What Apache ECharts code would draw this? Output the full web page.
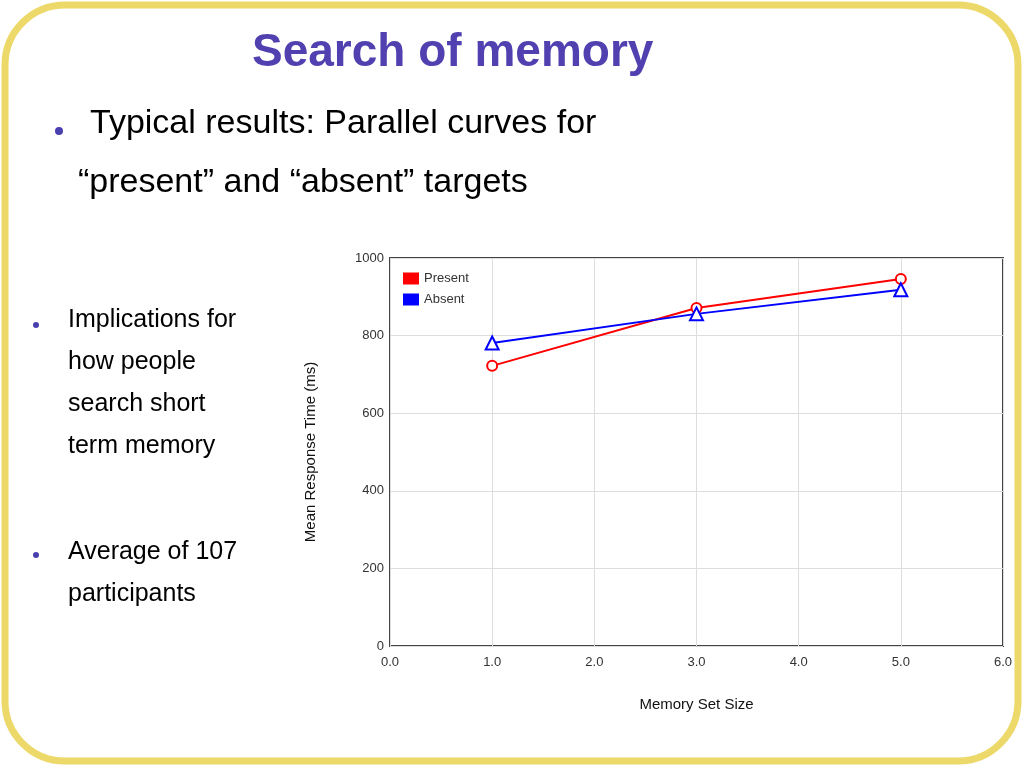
<!DOCTYPE html>
<html><head><meta charset="utf-8">
<script src="https://cdn.jsdelivr.net/npm/echarts@6/dist/echarts.min.js"></script>
<style>html,body{margin:0;padding:0;background:#fff}#c{width:1024px;height:768px}</style>
</head><body><div id="c"></div>
<script>
const xValues = [1.0, 3.0, 5.0];
const presentValues = [722, 871, 946];
const absentValues = [781, 856, 918];
const xTickLabels = ['0.0','1.0','2.0','3.0','4.0','5.0','6.0'];
const yTicks = [0,200,400,600,800,1000];

const chart = echarts.init(document.getElementById('c'));
const txt = (x,y,t,size,extra) => Object.assign({type:'text',left:x,top:y,style:Object.assign({text:t,font:size+'px "Liberation Sans", Arial, sans-serif',fill:'#000'},extra||{})});
const dot = (x,y,r) => ({type:'circle',shape:{cx:x,cy:y,r:r},style:{fill:'#4a3fae'}});
chart.setOption({
  animation:false,
  graphic:[
    {type:'rect',shape:{x:5,y:5,width:1013,height:756,r:60},style:{fill:'#fff',stroke:'#ecd96a',lineWidth:7},z:-10},
    {type:'text',left:252,top:30,style:{text:'Search of memory',font:'bold 46px "Liberation Sans", Arial, sans-serif',fill:'#5040b0'}},
    dot(59,131,4),
    txt(90,107,'Typical results: Parallel curves for',34),
    txt(78,166,'\u201cpresent\u201d and \u201cabsent\u201d targets',34),
    dot(36,325,3),
    txt(68,308,'Implications for',25),
    txt(68,350,'how people',25),
    txt(68,392,'search short',25),
    txt(68,434,'term memory',25),
    dot(36,555,3),
    txt(68,540,'Average of 107',25),
    txt(68,582,'participants',25)
  ],
  grid:{left:390,top:258,width:613,height:388,show:true,borderColor:'#444',borderWidth:2},
  legend:{left:398,top:267,orient:'vertical',itemWidth:16,itemHeight:12,itemGap:8,
    textStyle:{fontSize:13,color:'#333',fontFamily:'Liberation Sans'},
    data:[{name:'Present',icon:'rect'},{name:'Absent',icon:'rect'}]},
  xAxis:{type:'value',min:0,max:6,interval:1,name:'Memory Set Size',nameLocation:'middle',nameGap:51,
    nameTextStyle:{fontSize:15,color:'#111',fontFamily:'Liberation Sans'},
    axisLine:{show:false},axisTick:{show:false},
    axisLabel:{color:'#333',fontSize:13,margin:10,formatter:v=>xTickLabels[Math.round(v)]},
    splitLine:{lineStyle:{color:'#ddd'}}},
  yAxis:{type:'value',min:0,max:1000,interval:200,name:'Mean Response Time (ms)',nameLocation:'middle',nameGap:72,
    nameTextStyle:{fontSize:15,color:'#111',fontFamily:'Liberation Sans'},
    axisLine:{show:false},axisTick:{show:false},
    axisLabel:{color:'#333',fontSize:13,margin:6,formatter:v=>String(yTicks.find(t=>t===v) ?? v)},
    splitLine:{lineStyle:{color:'#ddd'}}},
  series:[
    {name:'Present',type:'line',data:xValues.map((x,i)=>[x,presentValues[i]]),color:'#ff0000',
      symbol:'emptyCircle',symbolSize:10,lineStyle:{width:2},itemStyle:{borderWidth:2}},
    {name:'Absent',type:'line',data:xValues.map((x,i)=>[x,absentValues[i]]),color:'#0000ff',
      symbol:'emptyTriangle',symbolSize:13,lineStyle:{width:2},itemStyle:{borderWidth:2}}
  ]
});
</script></body></html>
